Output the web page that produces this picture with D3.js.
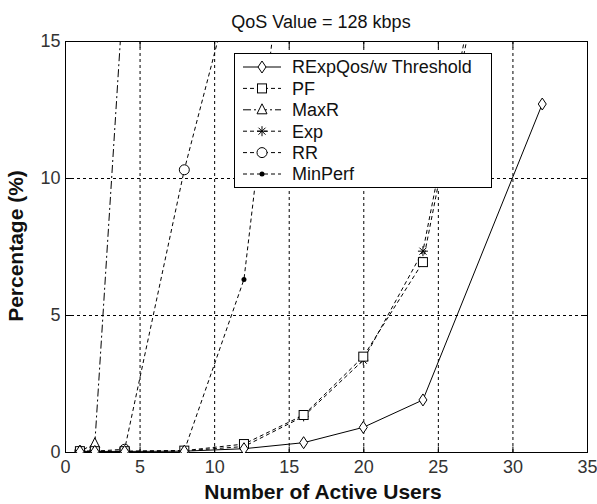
<!DOCTYPE html>
<html>
<head>
<meta charset="utf-8">
<script src="https://cdn.jsdelivr.net/npm/d3@7/dist/d3.min.js"></script>
<style>
  html, body { margin: 0; padding: 0; background: #fff; }
  svg { display: block; font-family: "Liberation Sans", Arial, Helvetica, sans-serif; }
</style>
</head>
<body>
<svg id="chart" width="597" height="504"></svg>
<script>
// Number of active users sampled in the simulation
const users = [1, 2, 4, 8, 12, 16, 20, 24, 32];

// Percentage (%) per scheduler; null where the run was not plotted
const rexpQos = [0.02, 0.02, 0.02, 0.03, 0.12, 0.34, 0.9, 1.9, 12.7];
const pf      = [0.03, 0.03, 0.03, 0.05, 0.29, 1.35, 3.48, 6.93, 29.0];
const maxR    = [0.03, 0.3, 17.5, null, null, null, null, null, null];
const expS    = [0.01, 0.01, 0.02, 0.04, 0.2, 1.3, 3.35, 7.33, 29.5];
const rr      = [0.03, 0.03, 0.1, 10.3, 18.7, null, null, null, null];
const minPerf = [0.01, 0.01, 0.01, 0.05, 6.3, 24.8, null, null, null];

const seriesNames = ["RExpQos/w Threshold", "PF", "MaxR", "Exp", "RR", "MinPerf"];
const seriesValues = [rexpQos, pf, maxR, expS, rr, minPerf];
const seriesDash = [null, "4,3", "8,3,2,3", "4,3", "4,3", "4,3"];
const seriesMarker = ["diamond", "square", "triangle", "star", "circle", "dot"];

const xTicks = [0, 5, 10, 15, 20, 25, 30, 35];
const yTicks = [0, 5, 10, 15];

const titleText = "QoS Value = 128 kbps";
const xLabel = "Number of Active Users";
const yLabel = "Percentage (%)";

const svg = d3.select("#chart");
const plot = { left: 65, right: 587, top: 41, bottom: 452 };

const x = d3.scaleLinear().domain([0, 35]).range([plot.left, plot.right]);
const y = d3.scaleLinear().domain([0, 15]).range([plot.bottom, plot.top]);

svg.append("rect").attr("width", 597).attr("height", 504).attr("fill", "#fff");

// grid lines
const grid = svg.append("g").attr("stroke", "#000").attr("stroke-width", 1)
  .attr("stroke-dasharray", "3,3");
xTicks.slice(1, -1).forEach(t => {
  grid.append("line").attr("x1", x(t) + 0.5).attr("x2", x(t) + 0.5)
    .attr("y1", plot.top).attr("y2", plot.bottom);
});
yTicks.slice(1, -1).forEach(t => {
  grid.append("line").attr("x1", plot.left).attr("x2", plot.right)
    .attr("y1", y(t) + 0.5).attr("y2", y(t) + 0.5);
});

// axes with inward ticks on all four sides
const tickLen = 6;
const fontTick = 18;
const axB = svg.append("g").attr("transform", `translate(0,${plot.bottom + 0.5})`)
  .call(d3.axisBottom(x).tickValues(xTicks).tickSizeInner(-tickLen).tickSizeOuter(0).tickPadding(8));
const axT = svg.append("g").attr("transform", `translate(0,${plot.top + 0.5})`)
  .call(d3.axisTop(x).tickValues(xTicks).tickSizeInner(-tickLen).tickSizeOuter(0).tickFormat(""));
const axL = svg.append("g").attr("transform", `translate(${plot.left + 0.5},0)`)
  .call(d3.axisLeft(y).tickValues(yTicks).tickSizeInner(-tickLen).tickSizeOuter(0).tickPadding(5));
const axR = svg.append("g").attr("transform", `translate(${plot.right + 0.5},0)`)
  .call(d3.axisRight(y).tickValues(yTicks).tickSizeInner(-tickLen).tickSizeOuter(0).tickFormat(""));
[axB, axT, axL, axR].forEach(a => {
  a.select(".domain").remove();
  a.selectAll("line").attr("stroke", "#000");
  a.selectAll("text").attr("font-size", fontTick).attr("fill", "#333")
    .attr("font-family", "Liberation Sans, Arial, sans-serif");
});

svg.append("rect")
  .attr("x", plot.left + 0.5).attr("y", plot.top + 0.5)
  .attr("width", plot.right - plot.left).attr("height", plot.bottom - plot.top)
  .attr("fill", "none").attr("stroke", "#000").attr("stroke-width", 1);

// clip region for data
svg.append("clipPath").attr("id", "plotClip").append("rect")
  .attr("x", plot.left).attr("y", plot.top)
  .attr("width", plot.right - plot.left + 1).attr("height", plot.bottom - plot.top + 1);

const data = svg.append("g").attr("clip-path", "url(#plotClip)");

function drawMarker(g, type, cx, cy) {
  const s = g.append("g").attr("transform", `translate(${cx},${cy})`)
    .attr("fill", "none").attr("stroke", "#000").attr("stroke-width", 1);
  if (type === "diamond") {
    s.append("path").attr("d", "M0,-6L4,0L0,6L-4,0Z").attr("fill", "#fff");
  } else if (type === "square") {
    s.append("rect").attr("x", -4.5).attr("y", -4.5).attr("width", 9).attr("height", 9).attr("fill", "#fff");
  } else if (type === "triangle") {
    s.append("path").attr("d", "M0,-6L5,4L-5,4Z").attr("fill", "#fff");
  } else if (type === "star") {
    s.append("path").attr("d", "M0,-5L0,5M-5,0L5,0M-3.5,-3.5L3.5,3.5M-3.5,3.5L3.5,-3.5");
  } else if (type === "circle") {
    s.append("circle").attr("r", 5).attr("fill", "#fff");
  } else if (type === "dot") {
    s.append("circle").attr("r", 2.5).attr("fill", "#000").attr("stroke", "none");
  }
}

const line = d3.line()
  .defined(d => d[1] !== null)
  .x(d => x(d[0])).y(d => y(d[1]));

// draw series back to front so the threshold scheme stays on top
const order = [5, 4, 2, 3, 1, 0];
order.forEach(i => {
  const pts = users.map((u, k) => [u, seriesValues[i][k]]);
  data.append("path").datum(pts)
    .attr("d", line)
    .attr("fill", "none").attr("stroke", "#000").attr("stroke-width", 1)
    .attr("stroke-dasharray", seriesDash[i]);
  pts.filter(p => p[1] !== null).forEach(p => drawMarker(data, seriesMarker[i], x(p[0]), y(p[1])));
});

// legend
const leg = svg.append("g");
leg.append("rect").attr("x", 234.5).attr("y", 53.5).attr("width", 257).attr("height", 134)
  .attr("fill", "#fff").attr("stroke", "#000").attr("stroke-width", 1);
seriesNames.forEach((name, i) => {
  const cy = 67 + i * 21.4;
  leg.append("line").attr("x1", 243).attr("x2", 281).attr("y1", cy).attr("y2", cy)
    .attr("stroke", "#000").attr("stroke-width", 1).attr("stroke-dasharray", seriesDash[i]);
  drawMarker(leg, seriesMarker[i], 262, cy);
  leg.append("text").attr("x", 292).attr("y", cy).attr("dy", "0.35em")
    .attr("font-size", 18).attr("fill", "#111").text(name);
});

// titles
svg.append("text").attr("x", 321).attr("y", 28).attr("text-anchor", "middle")
  .attr("font-size", 18).attr("fill", "#111").text(titleText);
svg.append("text").attr("x", 323).attr("y", 499).attr("text-anchor", "middle")
  .attr("font-size", 21).attr("font-weight", "bold").attr("fill", "#111").text(xLabel);
svg.append("text").attr("transform", "translate(23,246) rotate(-90)").attr("text-anchor", "middle")
  .attr("font-size", 21).attr("font-weight", "bold").attr("fill", "#111").text(yLabel);
</script>
</body>
</html>
